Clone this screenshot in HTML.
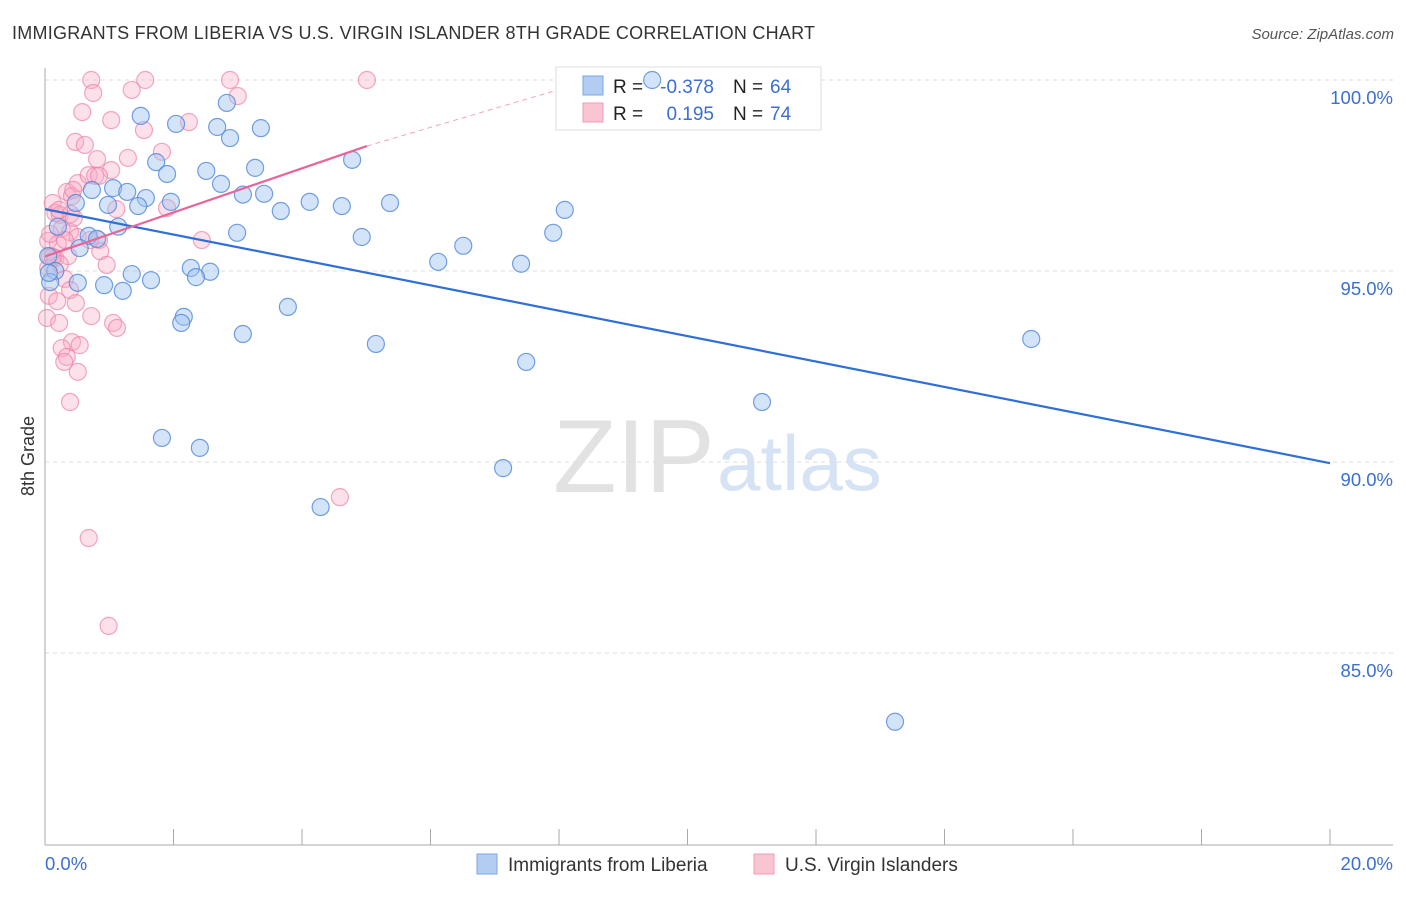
<!DOCTYPE html>
<html><head><meta charset="utf-8">
<style>
body{margin:0;background:#fff;font-family:"Liberation Sans",sans-serif;}
svg text{font-family:"Liberation Sans",sans-serif;}
</style></head>
<body>
<svg id="chart" width="1406" height="892" viewBox="0 0 1406 892" xmlns="http://www.w3.org/2000/svg">
<text x="12" y="39" font-size="18" fill="#333" textLength="803">IMMIGRANTS FROM LIBERIA VS U.S. VIRGIN ISLANDER 8TH GRADE CORRELATION CHART</text>
<text x="1394" y="39" font-size="15" fill="#555" font-style="italic" text-anchor="end">Source: ZipAtlas.com</text>
<g>
<text x="553" y="492" font-size="104" fill="#e2e2e2" font-family="Liberation Serif, serif">ZIP</text>
<text x="717" y="490" font-size="78" fill="#d6e3f5">atlas</text>
</g>
<g id="grid"></g>
<g id="axes"></g>
<g>
<rect x="556" y="67" width="265" height="63" fill="#fff" stroke="#ddd"/>
<rect x="583" y="76" width="20" height="19" fill="#b3cdf2" stroke="#7aa6e6"/>
<rect x="583" y="103" width="20" height="19" fill="#fac5d3" stroke="#f19ab4"/>
<text x="613" y="93" font-size="19" fill="#222">R =</text>
<text x="714" y="93" font-size="19" fill="#3b6fd1" text-anchor="end">-0.378</text>
<text x="733" y="93" font-size="19" fill="#222">N =</text>
<text x="770" y="93" font-size="19" fill="#3b6fd1">64</text>
<text x="613" y="120" font-size="19" fill="#222">R =</text>
<text x="714" y="120" font-size="19" fill="#3b6fd1" text-anchor="end">0.195</text>
<text x="733" y="120" font-size="19" fill="#222">N =</text>
<text x="770" y="120" font-size="19" fill="#3b6fd1">74</text>
</g>
<g id="pinkPts"></g>
<g id="bluePts"></g>
<g id="lines"></g>
<g>
<rect x="477" y="854" width="20" height="20" fill="#b3cdf2" stroke="#7aa6e6"/>
<text x="508" y="871" font-size="19" fill="#333">Immigrants from Liberia</text>
<rect x="754" y="854" width="20" height="20" fill="#fac5d3" stroke="#f19ab4"/>
<text x="785" y="871" font-size="19" fill="#333">U.S. Virgin Islanders</text>
</g>
<text transform="translate(34,456) rotate(-90)" font-size="18" fill="#333" text-anchor="middle">8th Grade</text>
</svg>
<script>
const yTicks=[100,95,90,85];
const xTickLabels=["0.0%","20.0%"];
const blueX=[9.45,1.49,2.83,2.04,2.68,2.88,3.36,1.73,1.90,2.51,3.27,4.78,1.06,1.28,0.73,2.74,3.41,3.08,1.57,1.96,1.45,0.98,0.48,4.12,3.67,4.62,5.37,8.09,1.14,0.20,0.68,0.81,2.99,4.93,7.91,6.51,0.54,0.05,6.12,7.41,2.27,2.57,2.35,1.35,1.65,0.16,0.08,0.51,0.92,1.21,3.78,2.16,2.12,3.08,5.15,7.49,15.35,11.16,1.82,2.41,7.13,4.29,13.23,0.06];
const blueY=[100.0,99.06,99.40,98.85,98.77,98.48,98.74,97.85,97.54,97.62,97.70,97.91,97.17,97.07,97.12,97.28,97.02,97.00,96.91,96.81,96.70,96.73,96.78,96.81,96.57,96.70,96.78,96.60,96.16,96.16,95.92,95.84,96.00,95.89,96.00,95.66,95.60,95.39,95.24,95.19,95.08,94.98,94.84,94.92,94.76,95.00,94.71,94.69,94.63,94.48,94.06,93.80,93.64,93.35,93.09,92.62,93.22,91.57,90.63,90.37,89.84,88.82,83.20,94.95];
const pinkX=[0.72,1.56,2.88,5.01,0.75,1.35,3.00,0.58,1.03,1.54,0.47,0.62,0.81,1.29,1.82,1.03,2.24,0.34,0.42,0.51,0.68,0.78,0.84,0.44,0.12,0.16,0.23,0.40,1.11,1.90,0.26,0.39,0.51,0.84,0.05,0.20,0.31,2.44,0.08,0.16,0.36,0.86,0.96,0.23,0.05,0.31,0.39,0.06,0.19,0.48,0.72,0.03,0.22,1.06,1.12,0.42,0.54,0.26,0.34,0.30,0.51,0.39,0.68,0.99,4.59,0.12,0.08,0.22,0.45,0.70];
const pinkY=[100.0,100.0,100.0,100.0,99.66,99.74,99.58,99.16,98.95,98.69,98.38,98.30,97.93,97.96,98.12,97.64,98.90,97.07,96.96,97.30,97.51,97.49,97.49,97.12,96.78,96.52,96.47,96.49,96.62,96.65,96.10,96.02,95.89,95.81,95.79,95.71,95.81,95.81,95.39,95.34,95.39,95.52,95.16,95.18,95.08,94.79,94.50,94.35,94.21,94.16,93.82,93.77,93.64,93.64,93.51,93.14,93.06,92.98,92.75,92.62,92.36,91.57,88.01,85.71,89.08,95.37,95.97,96.60,96.39,95.81];
const X0=45,X1=1330,Y100=80,PXY=38.2;
const sx=v=>X0+(X1-X0)*v/20;
const sy=v=>Y100+(100-v)*PXY;
const NS="http://www.w3.org/2000/svg";
function mk(tag,attrs,parent){const e=document.createElementNS(NS,tag);for(const k in attrs)e.setAttribute(k,attrs[k]);parent.appendChild(e);return e;}
const grid=document.getElementById('grid');
yTicks.forEach(t=>{
  const l=mk('line',{x1:45,x2:1393,y1:sy(t),y2:sy(t),stroke:'#ddd','stroke-dasharray':'4,4'},grid);
  
  
  const tx=mk('text',{x:1393,y:sy(t)+24,'font-size':18.5,fill:'#3b6fd1','text-anchor':'end'},grid);
  tx.textContent=t.toFixed(1)+'%';
  
  
});
const axes=document.getElementById('axes');
const ya=mk('line',{x1:45,x2:45,y1:68,y2:845,stroke:'#aaa'},axes);


const xa=mk('line',{x1:45,x2:1393,y1:845,y2:845,stroke:'#aaa'},axes);


for(let i=0;i<=10;i++){
  const t=mk('line',{x1:sx(i*2),x2:sx(i*2),y1:829,y2:845,stroke:'#aaa'},axes);
  
  
}
[[0,'start',xTickLabels[0]],[20,'end',xTickLabels[1]]].forEach(([v,a,s])=>{
  const t=mk('text',{x:v===0?sx(0):1393,y:870,'font-size':18.5,fill:'#3b6fd1','text-anchor':a},axes);
  t.textContent=s;
  
  
});
const pg=document.getElementById('pinkPts');
pinkX.forEach((v,i)=>{
  const c=mk('circle',{cx:sx(v),cy:sy(pinkY[i]),r:8.5,fill:'rgba(248,170,195,0.35)',stroke:'rgba(236,130,165,0.7)','stroke-width':1.2},pg);
  
  
});
const bg=document.getElementById('bluePts');
blueX.forEach((v,i)=>{
  const c=mk('circle',{cx:sx(v),cy:sy(blueY[i]),r:8.5,fill:'rgba(160,195,240,0.45)',stroke:'rgba(80,135,220,0.8)','stroke-width':1.2},bg);
  
  
});
const lg=document.getElementById('lines');
const bl=mk('line',{x1:sx(0),y1:sy(96.62),x2:sx(20),y2:sy(89.97),stroke:'#2f6fd6','stroke-width':2.2},lg);


const pl=mk('line',{x1:sx(0),y1:sy(95.38),x2:sx(5.01),y2:sy(98.27),stroke:'#e8659a','stroke-width':2.2},lg);


const pd=mk('line',{x1:sx(5.01),y1:sy(98.27),x2:sx(7.9),y2:sy(99.7),stroke:'#e8659a','stroke-width':1,'stroke-dasharray':'5,4',opacity:0.6},lg);


</script>
</body></html>
